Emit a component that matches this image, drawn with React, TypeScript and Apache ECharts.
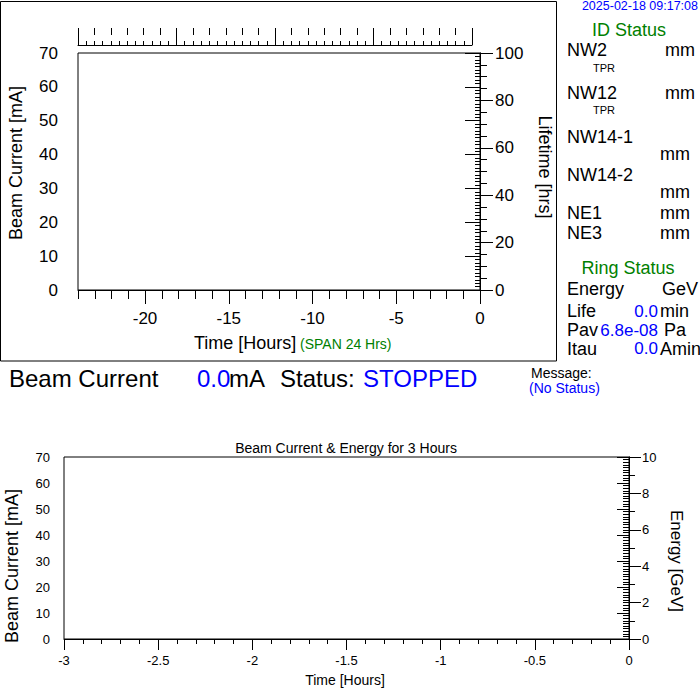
import React, { useEffect, useRef } from "react";
import * as echarts from "echarts";

// ---- data (the reference shows empty plots) ----
const beamCurrent24h: number[][] = [];
const lifetime24h: number[][] = [];
const beamCurrent3h: number[][] = [];
const energy3h: number[][] = [];

// tick label values
const topTimeMajor = [-20, -15, -10, -5, 0];

// status texts
const timestamp = "2025-02-18 09:17:08";
const beamCurrentValue = "0.0";
const machineStatus = "STOPPED";
const messageText = "(No Status)";
const lifeValue = "0.0";
const pavValue = "6.8e-08";
const itauValue = "0.0";
const idNames = ["NW2", "NW12", "NW14-1", "NW14-2", "NE1", "NE3"];

const FONT = "'Liberation Sans', Arial, Helvetica, sans-serif";
const BLUE = "#0000ff";
const GREEN = "#008000";

function txt(
  text: string,
  x: number,
  y: number,
  size: number,
  color = "#000",
  align: "left" | "center" | "right" = "left",
  rotation = 0
) {
  return {
    type: "text",
    x,
    y,
    rotation,
    silent: true,
    style: {
      text,
      fontSize: size,
      fontFamily: FONT,
      fill: color,
      textAlign: align,
      textVerticalAlign: "middle",
    },
  };
}

const axisLineBlack = { show: true, lineStyle: { color: "#000", width: 1 } };

export default function App() {
  const ref = useRef<HTMLDivElement>(null);

  useEffect(() => {
    if (!ref.current) return;
    const chart = echarts.init(ref.current, undefined, { renderer: "svg" });

    const labelBase = { color: "#000", fontFamily: FONT };

    const option: any = {
      animation: false,
      backgroundColor: "#fff",
      grid: [
        {
          left: 78,
          top: 53,
          width: 402,
          height: 237,
          show: true,
          borderColor: "#000",
          borderWidth: 1,
          backgroundColor: "transparent",
        },
        { left: 78, top: 35, width: 394, height: 10 },
        {
          left: 64,
          top: 457,
          width: 565,
          height: 182,
          show: true,
          borderColor: "#000",
          borderWidth: 1,
          backgroundColor: "transparent",
        },
      ],
      xAxis: [
        {
          gridIndex: 0,
          type: "value",
          position: "bottom",
          min: -24,
          max: 0,
          interval: 1,
          axisLine: axisLineBlack,
          axisTick: { show: true, length: 9, lineStyle: { color: "#000" } },
          axisLabel: { show: false },
          splitLine: { show: false },
        },
        {
          gridIndex: 0,
          type: "value",
          position: "bottom",
          min: -24,
          max: 0,
          axisLine: { show: false },
          axisTick: {
            show: true,
            customValues: topTimeMajor,
            length: 14,
            lineStyle: { color: "#000" },
          },
          axisLabel: {
            ...labelBase,
            customValues: topTimeMajor,
            fontSize: 17,
            margin: 20,
          },
          splitLine: { show: false },
        },
        {
          gridIndex: 1,
          type: "value",
          position: "top",
          min: 0,
          max: 48,
          interval: 12,
          axisLine: axisLineBlack,
          axisTick: { show: true, length: 13, lineStyle: { color: "#000" } },
          minorTick: {
            show: true,
            splitNumber: 12,
            length: 4,
            lineStyle: { color: "#000" },
          },
          axisLabel: { show: false },
          splitLine: { show: false },
        },
        {
          gridIndex: 1,
          type: "value",
          position: "top",
          min: 0,
          max: 48,
          interval: 2,
          axisLine: { show: false },
          axisTick: { show: true, length: 7, lineStyle: { color: "#000" } },
          axisLabel: { show: false },
          splitLine: { show: false },
        },
        {
          gridIndex: 2,
          type: "value",
          position: "bottom",
          min: -3,
          max: 0,
          interval: 0.5,
          axisLine: axisLineBlack,
          axisTick: { show: true, length: 11, lineStyle: { color: "#000" } },
          minorTick: {
            show: true,
            splitNumber: 5,
            length: 5,
            lineStyle: { color: "#000" },
          },
          axisLabel: { ...labelBase, fontSize: 13, margin: 15 },
          splitLine: { show: false },
        },
      ],
      yAxis: [
        {
          gridIndex: 0,
          type: "value",
          position: "left",
          min: 0,
          max: 70,
          interval: 10,
          axisLine: axisLineBlack,
          axisTick: { show: true, length: 15, lineStyle: { color: "#000" } },
          minorTick: {
            show: true,
            splitNumber: 10,
            length: 5,
            lineStyle: { color: "#000" },
          },
          axisLabel: { ...labelBase, fontSize: 17, margin: 20 },
          splitLine: { show: false },
        },
        {
          gridIndex: 0,
          type: "value",
          position: "right",
          min: 0,
          max: 100,
          interval: 20,
          axisLine: axisLineBlack,
          axisTick: { show: true, length: 13, lineStyle: { color: "#000" } },
          minorTick: {
            show: true,
            splitNumber: 4,
            length: 7,
            lineStyle: { color: "#000" },
          },
          axisLabel: { ...labelBase, fontSize: 17, margin: 15 },
          splitLine: { show: false },
        },
        { gridIndex: 1, type: "value", show: false, min: 0, max: 1 },
        {
          gridIndex: 2,
          type: "value",
          position: "left",
          min: 0,
          max: 70,
          interval: 10,
          axisLine: axisLineBlack,
          axisTick: { show: true, length: 12, lineStyle: { color: "#000" } },
          minorTick: {
            show: true,
            splitNumber: 10,
            length: 6,
            lineStyle: { color: "#000" },
          },
          axisLabel: { ...labelBase, fontSize: 13, margin: 14 },
          splitLine: { show: false },
        },
        {
          gridIndex: 2,
          type: "value",
          position: "right",
          min: 0,
          max: 10,
          interval: 2,
          axisLine: axisLineBlack,
          axisTick: { show: true, length: 12, lineStyle: { color: "#000" } },
          minorTick: {
            show: true,
            splitNumber: 2,
            length: 6,
            lineStyle: { color: "#000" },
          },
          axisLabel: { ...labelBase, fontSize: 13, margin: 13 },
          splitLine: { show: false },
        },
      ],
      series: [
        {
          name: "Beam Current",
          type: "line",
          xAxisIndex: 0,
          yAxisIndex: 0,
          data: beamCurrent24h,
          showSymbol: false,
          lineStyle: { color: "#0000ff", width: 1 },
        },
        {
          name: "Lifetime",
          type: "line",
          xAxisIndex: 0,
          yAxisIndex: 1,
          data: lifetime24h,
          showSymbol: false,
          lineStyle: { color: "#ff0000", width: 1 },
        },
        {
          name: "Beam Current 3h",
          type: "line",
          xAxisIndex: 4,
          yAxisIndex: 3,
          data: beamCurrent3h,
          showSymbol: false,
          lineStyle: { color: "#0000ff", width: 1 },
        },
        {
          name: "Energy 3h",
          type: "line",
          xAxisIndex: 4,
          yAxisIndex: 4,
          data: energy3h,
          showSymbol: false,
          lineStyle: { color: "#ff0000", width: 1 },
        },
      ],
      graphic: [
        {
          type: "rect",
          silent: true,
          shape: { x: 0.5, y: 1.5, width: 556, height: 359.5 },
          style: { fill: "none", stroke: "#000", lineWidth: 1 },
        },
        // top chart axis names
        txt("Beam Current [mA]", 16, 163, 18, "#000", "center", Math.PI / 2),
        txt("Lifetime [hrs]", 545, 167, 18, "#000", "center", -Math.PI / 2),
        txt("Time [Hours]", 194, 343, 18),
        txt("(SPAN 24 Hrs)", 300, 344, 14, GREEN),
        // status row
        txt("Beam Current", 9, 378, 24),
        txt(beamCurrentValue, 197, 378, 24, BLUE),
        txt("mA", 229, 378, 24),
        txt("Status:", 280, 378, 24),
        txt(machineStatus, 363, 378, 24, BLUE),
        txt("Message:", 531, 373, 14),
        txt(messageText, 529, 388, 14, BLUE),
        // right panel
        txt(timestamp, 698, 5.5, 12.5, BLUE, "right"),
        txt("ID Status", 629, 30, 18, GREEN, "center"),
        txt(idNames[0], 567, 50, 18),
        txt("mm", 665, 50, 18),
        txt("TPR", 593, 68, 11),
        txt(idNames[1], 567, 93, 18),
        txt("mm", 665, 93, 18),
        txt("TPR", 593, 110, 11),
        txt(idNames[2], 567, 137, 18),
        txt("mm", 660, 154, 18),
        txt(idNames[3], 567, 175, 18),
        txt("mm", 660, 192, 18),
        txt(idNames[4], 567, 213, 18),
        txt("mm", 660, 213, 18),
        txt(idNames[5], 567, 233, 18),
        txt("mm", 660, 233, 18),
        txt("Ring Status", 628, 268, 18, GREEN, "center"),
        txt("Energy", 567, 289, 18),
        txt("GeV", 662, 289, 18),
        txt("Life", 567, 311, 18),
        txt(lifeValue, 658, 311, 17, BLUE, "right"),
        txt("min", 660, 311, 18),
        txt("Pav", 567, 330, 18),
        txt(pavValue, 658, 330, 17, BLUE, "right"),
        txt("Pa", 664, 330, 18),
        txt("Itau", 567, 348.5, 18),
        txt(itauValue, 658, 348.5, 17, BLUE, "right"),
        txt("Amin", 660, 348.5, 18),
        // bottom chart texts
        txt("Beam Current & Energy for 3 Hours", 346, 448, 14, "#000", "center"),
        txt("Time [Hours]", 345, 680, 14, "#000", "center"),
        txt("Beam Current [mA]", 12, 566, 18, "#000", "center", Math.PI / 2),
        txt("Energy [GeV]", 676, 561, 17, "#000", "center", -Math.PI / 2),
      ],
    };

    chart.setOption(option);
    return () => {
      chart.dispose();
    };
  }, []);

  return (
    <div
      ref={ref}
      style={{
        position: "fixed",
        left: 0,
        top: 0,
        width: 700,
        height: 700,
        background: "#fff",
      }}
    />
  );
}
